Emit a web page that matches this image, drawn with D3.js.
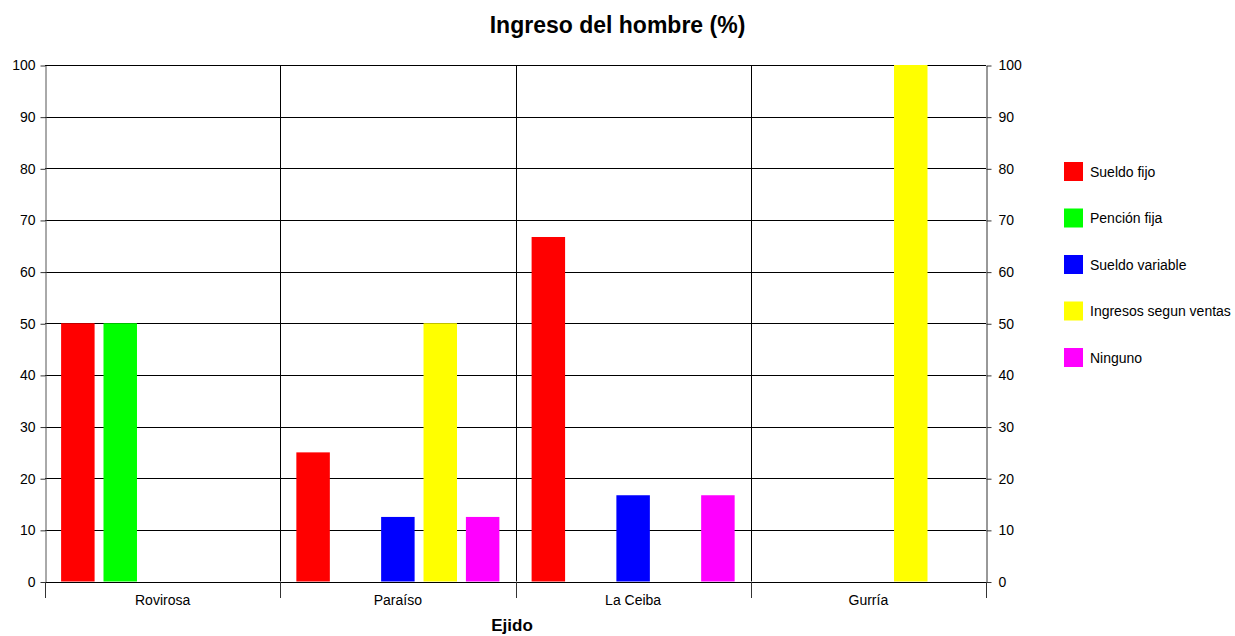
<!DOCTYPE html>
<html>
<head>
<meta charset="utf-8">
<script src="https://cdn.jsdelivr.net/npm/d3@7"></script>
<style>
  html, body { margin: 0; padding: 0; background: #fff; }
  svg { display: block; font-family: "Liberation Sans", Arial, sans-serif; }
</style>
</head>
<body>
<svg id="chart" width="1235" height="636"></svg>
<script>
// Ejidos on the x axis
const categories = ["Rovirosa", "Paraíso", "La Ceiba", "Gurría"];
// Income sources (legend order)
const seriesNames = ["Sueldo fijo", "Pención fija", "Sueldo variable", "Ingresos segun ventas", "Ninguno"];
const seriesColors = ["#ff0000", "#00ff00", "#0000ff", "#ffff00", "#ff00ff"];
// Percent of men per income source, one array per series, indexed by ejido
const sueldoFijo      = [50, 25, 66.7, 0];
const pencionFija     = [50, 0, 0, 0];
const sueldoVariable  = [0, 12.5, 16.7, 0];
const ingresosVentas  = [0, 50, 0, 100];
const ninguno         = [0, 12.5, 16.7, 0];
const yTicks = [0, 10, 20, 30, 40, 50, 60, 70, 80, 90, 100];

const seriesValues = [sueldoFijo, pencionFija, sueldoVariable, ingresosVentas, ninguno];

const svg = d3.select("#chart");
const plot = { left: 45, right: 986, top: 65, bottom: 581.5 };

const x = d3.scaleBand().domain(categories).range([plot.left, plot.right]);
const xInner = d3.scaleBand().domain(seriesNames)
  .range([0, x.bandwidth()]).paddingInner(0.21).paddingOuter(0.38);
const y = d3.scaleLinear().domain([0, 100]).range([plot.bottom, plot.top]);

// Title
svg.append("text")
  .attr("x", 617.5).attr("y", 33)
  .attr("text-anchor", "middle")
  .attr("font-size", 23).attr("font-weight", "bold")
  .text("Ingreso del hombre (%)");

// Horizontal gridlines
svg.append("g")
  .selectAll("line").data(yTicks).join("line")
  .attr("x1", plot.left).attr("x2", plot.right)
  .attr("y1", d => Math.round(y(d)) + 0.5).attr("y2", d => Math.round(y(d)) + 0.5)
  .attr("stroke", "#000").attr("stroke-width", 1);

// Vertical gridlines at category boundaries
const boundaries = categories.slice(1).map(c => x(c));
svg.append("g")
  .selectAll("line").data(boundaries).join("line")
  .attr("x1", d => Math.round(d) + 0.5).attr("x2", d => Math.round(d) + 0.5)
  .attr("y1", plot.top).attr("y2", plot.bottom)
  .attr("stroke", "#000");

// Bars
const groups = svg.append("g").selectAll("g").data(categories).join("g")
  .attr("transform", c => `translate(${x(c)},0)`);
groups.selectAll("rect")
  .data((c, ci) => seriesNames.map((s, si) => ({ s, si, v: seriesValues[si][ci] })).filter(d => d.v > 0))
  .join("rect")
  .attr("x", d => xInner(d.s))
  .attr("width", xInner.bandwidth())
  .attr("y", d => y(d.v))
  .attr("height", d => y(0) - y(d.v))
  .attr("fill", d => seriesColors[d.si]);

// Left axis
const yLeft = d3.axisLeft(y).tickValues(yTicks).tickSize(5).tickPadding(5).tickSizeOuter(0);
svg.append("g").attr("transform", `translate(${plot.left + 0.5},0.5)`).call(yLeft)
  .call(g => g.select(".domain").attr("stroke", "#555"))
  .call(g => g.selectAll(".tick line").attr("stroke", "#333"))
  .call(g => g.selectAll("text").attr("font-size", 14).attr("fill", "#000")
    .attr("font-family", "\"Liberation Sans\", Arial, sans-serif"));

// Right axis
const yRight = d3.axisRight(y).tickValues(yTicks).tickSize(5).tickPadding(7).tickSizeOuter(0);
svg.append("g").attr("transform", `translate(${plot.right + 0.5},0.5)`).call(yRight)
  .call(g => g.select(".domain").attr("stroke", "#333"))
  .call(g => g.selectAll(".tick line").attr("stroke", "#333"))
  .call(g => g.selectAll("text").attr("font-size", 14).attr("fill", "#000")
    .attr("font-family", "\"Liberation Sans\", Arial, sans-serif"));

// Bottom axis: baseline, boundary ticks and category labels
const xAxisG = svg.append("g");
xAxisG.append("line")
  .attr("x1", plot.left).attr("x2", plot.right)
  .attr("y1", Math.round(y(0)) + 0.5).attr("y2", Math.round(y(0)) + 0.5)
  .attr("stroke", "#000");
const tickXs = categories.map(c => x(c)).concat([x(categories[categories.length - 1]) + x.bandwidth()]);
xAxisG.selectAll("line.tk").data(tickXs).join("line").attr("class", "tk")
  .attr("x1", d => Math.round(d) + 0.5).attr("x2", d => Math.round(d) + 0.5)
  .attr("y1", Math.round(y(0))).attr("y2", Math.round(y(0)) + 16)
  .attr("stroke", "#333");
xAxisG.selectAll("text").data(categories).join("text")
  .attr("x", c => x(c) + x.bandwidth() / 2)
  .attr("y", 605)
  .attr("text-anchor", "middle")
  .attr("font-size", 14)
  .text(c => c);

// X axis title
svg.append("text")
  .attr("x", 512).attr("y", 631)
  .attr("text-anchor", "middle")
  .attr("font-size", 17).attr("font-weight", "bold")
  .text("Ejido");

// Legend
const legend = svg.append("g").attr("transform", "translate(1064,162)");
const items = legend.selectAll("g").data(seriesNames).join("g")
  .attr("transform", (d, i) => `translate(0,${i * 46.5})`);
items.append("rect")
  .attr("width", 19).attr("height", 19)
  .attr("fill", (d, i) => seriesColors[i]);
items.append("text")
  .attr("x", 26).attr("y", 14.5)
  .attr("font-size", 14)
  .text(d => d);
</script>
</body>
</html>
